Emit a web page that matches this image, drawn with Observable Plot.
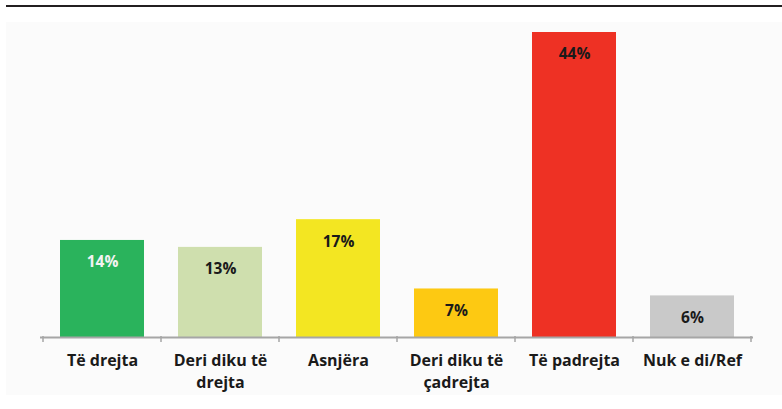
<!DOCTYPE html>
<html>
<head>
<meta charset="utf-8">
<script src="https://cdn.jsdelivr.net/npm/d3@7"></script>
<script src="https://cdn.jsdelivr.net/npm/@observablehq/plot@0.6"></script>
<style>
  html, body { margin: 0; padding: 0; background: #ffffff; }
  #wrap { position: relative; width: 782px; height: 409px; overflow: hidden; }
  #topline { position: absolute; left: 6px; right: 0; top: 5px; height: 2px; background: #231f20; }
  #panel { position: absolute; left: 6px; right: 0; top: 22px; height: 373px; background: #fbfbfb; }
  #chart { position: absolute; left: 0; top: 0; }
</style>
</head>
<body>
<div id="wrap">
  <div id="topline"></div>
  <div id="panel"></div>
  <div id="chart"></div>
</div>
<script>
const categories = ["Të drejta", "Deri diku të drejta", "Asnjëra", "Deri diku të çadrejta", "Të padrejta", "Nuk e di/Ref"];
const tickLabels = ["Të drejta", "Deri diku të\ndrejta", "Asnjëra", "Deri diku të\nçadrejta", "Të padrejta", "Nuk e di/Ref"];
const values = [14, 13, 17, 7, 44, 6];
const valueLabels = ["14%", "13%", "17%", "7%", "44%", "6%"];
const colors = ["#2ab35c", "#cfdfae", "#f3e622", "#fdc912", "#ee3124", "#c9c9c9"];
const labelColors = ["#f2f2f2", "#1a1a1a", "#1a1a1a", "#1a1a1a", "#1a1a1a", "#1a1a1a"];

const data = categories.map((c, i) => ({cat: c, value: values[i], label: valueLabels[i], color: colors[i], lc: labelColors[i], tick: tickLabels[i]}));

const W = 782, H = 409, mL = 40, mR = 29;
const font = "'Open Sans', Lato, sans-serif";

const plot = Plot.plot({
  width: W,
  height: H,
  marginLeft: mL,
  marginRight: mR,
  marginTop: 32,
  marginBottom: 72,
  style: {background: "transparent", fontFamily: font},
  x: {domain: categories, paddingInner: 0.29, paddingOuter: 0.145, align: 0.5, axis: null},
  y: {domain: [0, 44], axis: null},
  marks: [
    Plot.barY(data, {x: "cat", y: "value", fill: "color"}),
    Plot.ruleY([0], {stroke: "#a6a6a6", strokeWidth: 2}),
    Plot.text(data, {x: "cat", y: "value", text: "label", fill: "lc", dy: 22, fontSize: 15.5, fontWeight: "bold", fontFamily: font}),
    Plot.text(data, {x: "cat", y: 0, text: "tick", dy: 13, lineAnchor: "top", lineHeight: 1.38, fontSize: 16, fontWeight: "bold", fill: "#1a1a1a", fontFamily: font})
  ]
});

// short tick marks at the band boundaries, placed with the x and y scales
const xs = plot.scale("x");
const ys = plot.scale("y");
const svg = d3.select(plot);
const y0 = ys.apply(0);
const step = xs.step;
const starts = categories.map(c => xs.apply(c) + xs.bandwidth / 2 - step / 2);
starts.push(starts[starts.length - 1] + step);
const g = svg.append("g").attr("stroke", "#a6a6a6").attr("stroke-width", 1.5);
starts.forEach(x => g.append("line").attr("x1", x).attr("x2", x).attr("y1", y0 - 1).attr("y2", y0 + 5));

document.getElementById("chart").appendChild(plot);
</script>
</body>
</html>
